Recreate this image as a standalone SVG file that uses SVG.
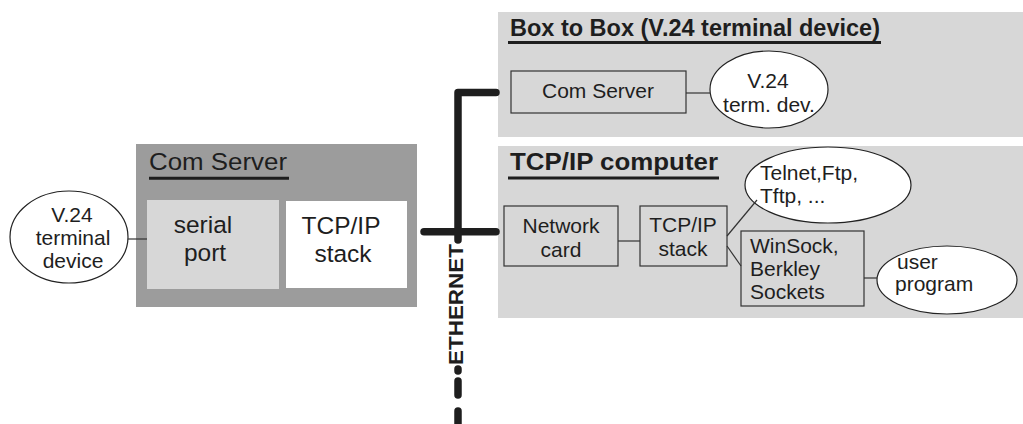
<svg xmlns="http://www.w3.org/2000/svg" width="1023" height="424" viewBox="0 0 1023 424">
<style>
text{font-family:"Liberation Sans",Arial,sans-serif;fill:#1e1e1e}
.t{font-size:21px}
.big{font-size:24.5px}
.title{font-size:23px;font-weight:bold}
.box{fill:none;stroke:#333;stroke-width:1.2}
.ell{fill:#fff;stroke:#222;stroke-width:1.2}
.ln{stroke:#333;stroke-width:1.2;fill:none}
.ul{stroke:#1e1e1e;stroke-width:3}
.eth{stroke:#1e1e1e;stroke-width:7.5;fill:none;stroke-linecap:round;stroke-linejoin:round}
</style>
<rect width="1023" height="424" fill="#fff"/>
<g id="panel-box2box">
<rect x="498" y="12" width="525" height="125" fill="#d7d7d7"/>
<text class="title" x="510" y="36" textLength="370" lengthAdjust="spacingAndGlyphs">Box to Box (V.24 terminal device)</text>
<line class="ul" x1="508" y1="42.5" x2="881" y2="42.5"/>
</g>
<g id="panel-tcpip">
<rect x="498" y="146" width="525" height="172" fill="#d7d7d7"/>
<text class="title" x="510" y="170" textLength="208" lengthAdjust="spacingAndGlyphs">TCP/IP computer</text>
<line class="ul" x1="508" y1="178" x2="719" y2="178"/>
</g>
<g id="comserver-main">
<rect x="136" y="144" width="281" height="163" fill="#9c9c9c"/>
<text x="149" y="170" font-size="24" textLength="138" lengthAdjust="spacingAndGlyphs">Com Server</text>
<line class="ul" x1="149" y1="178.3" x2="289" y2="178.3"/>
</g>
<g id="serial-port">
<rect x="147" y="200" width="132" height="89" fill="#d7d7d7"/>
<text class="big" x="203" y="233" text-anchor="middle">serial</text>
<text class="big" x="205" y="261" text-anchor="middle">port</text>
</g>
<g id="tcpip-stack-main">
<rect x="286" y="201" width="121" height="87" fill="#fff"/>
<text class="big" x="341" y="234" text-anchor="middle">TCP/IP</text>
<text class="big" x="343" y="262" text-anchor="middle">stack</text>
</g>
<g id="v24-terminal">
<ellipse class="ell" cx="69" cy="237" rx="59" ry="46"/>
<text class="t" x="72" y="222" text-anchor="middle" font-size="20">V.24</text>
<text class="t" x="73" y="245" text-anchor="middle" font-size="20">terminal</text>
<text class="t" x="73" y="268" text-anchor="middle" font-size="20">device</text>
</g>
<g id="comserver-b2b">
<rect class="box" x="511" y="71" width="175" height="42"/>
<text class="t" x="598" y="98" text-anchor="middle" font-size="22">Com Server</text>
</g>
<g id="v24-termdev">
<ellipse class="ell" cx="769" cy="89.5" rx="59" ry="38.5"/>
<text class="t" x="768" y="88" text-anchor="middle">V.24</text>
<text class="t" x="769" y="112" text-anchor="middle">term. dev.</text>
</g>
<g id="network-card">
<rect class="box" x="504" y="206" width="114" height="60"/>
<text class="t" x="561" y="233" text-anchor="middle">Network</text>
<text class="t" x="561" y="257" text-anchor="middle">card</text>
</g>
<g id="tcpip-stack-pc">
<rect class="box" x="640" y="206" width="87" height="60"/>
<text class="t" x="683" y="232" text-anchor="middle">TCP/IP</text>
<text class="t" x="683" y="256" text-anchor="middle">stack</text>
</g>
<g id="telnet">
<ellipse class="ell" cx="828" cy="185" rx="83" ry="38"/>
<text class="t" x="760" y="180" font-size="20">Telnet,Ftp,</text>
<text class="t" x="760" y="203" font-size="20">Tftp, ...</text>
</g>
<g id="winsock">
<rect class="box" x="741" y="231" width="123" height="75"/>
<text class="t" x="750" y="253">WinSock,</text>
<text class="t" x="750" y="276">Berkley</text>
<text class="t" x="750" y="299">Sockets</text>
</g>
<g id="user-program">
<ellipse class="ell" cx="947" cy="280" rx="70" ry="34"/>
<text class="t" x="897" y="269">user</text>
<text class="t" x="895" y="291">program</text>
</g>
<g id="ethernet">
<path class="eth" d="M496 92.5 H458 V240"/>
<line class="eth" x1="424" y1="231.7" x2="496" y2="231.7"/>
<text x="0" y="0" font-size="21" font-weight="bold" textLength="121" lengthAdjust="spacingAndGlyphs" transform="translate(463 365) rotate(-90)">ETHERNET</text>
<line class="eth" x1="458" y1="369" x2="458" y2="371" stroke-width="5"/>
<line class="eth" x1="458" y1="381" x2="458" y2="395"/>
<line class="eth" x1="458" y1="411" x2="458" y2="432"/>
</g>
<g id="connectors">
<line class="ln" x1="128" y1="239" x2="147" y2="239"/>
<line class="ln" x1="686" y1="93" x2="710" y2="93"/>
<line class="ln" x1="618" y1="241" x2="640" y2="241"/>
<line class="ln" x1="727" y1="236" x2="757" y2="200"/>
<line class="ln" x1="727" y1="246" x2="741" y2="266"/>
<line class="ln" x1="864" y1="278" x2="877" y2="278"/>
</g>
</svg>
